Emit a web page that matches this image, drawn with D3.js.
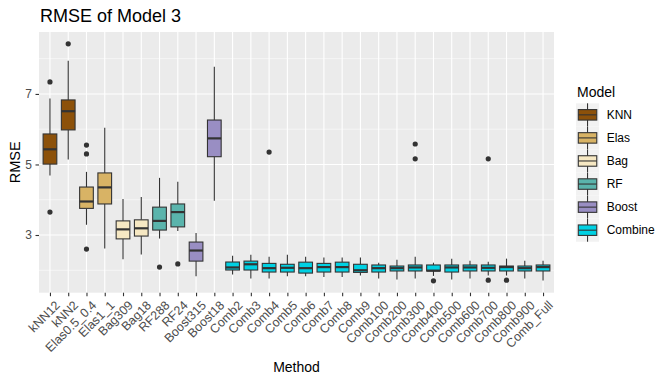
<!DOCTYPE html>
<html>
<head>
<meta charset="utf-8">
<script src="https://cdn.jsdelivr.net/npm/d3@7"></script>
<style>
    body { margin: 0; background: #ffffff; }
    svg text { font-family: "Liberation Sans", Arial, sans-serif; }
</style>
</head>
<body>
<div id="chart"></div>
<script>

// methods on the x axis, and the model group each one belongs to
var methods = ["kNN12", "kNN2", "Elas0.5_0.4", "Elas1_1", "Bag309", "Bag18", "RF288", "RF24",
               "Boost315", "Boost18", "Comb2", "Comb3", "Comb4", "Comb5", "Comb6", "Comb7",
               "Comb8", "Comb9", "Comb100", "Comb200", "Comb300", "Comb400", "Comb500",
               "Comb600", "Comb700", "Comb800", "Comb900", "Comb_Full"];

var methodModel = ["KNN", "KNN", "Elas", "Elas", "Bag", "Bag", "RF", "RF", "Boost", "Boost",
                   "Combine", "Combine", "Combine", "Combine", "Combine", "Combine", "Combine",
                   "Combine", "Combine", "Combine", "Combine", "Combine", "Combine", "Combine",
                   "Combine", "Combine", "Combine", "Combine"];

// box plot statistics (RMSE)
var whiskerLow = [4.69, 5.14, 3.29, 2.62, 2.31, 2.45, 2.90, 3.11, 1.83, 3.97,
                  1.88, 1.77, 1.77, 1.83, 1.83, 1.81, 1.81, 1.85, 1.77, 1.74,
                  1.77, 1.84, 1.74, 1.77, 1.85, 1.85, 1.77, 1.71];
var q1         = [5.01, 5.98, 3.755, 3.88, 2.89, 2.97, 3.14, 3.23, 2.26, 5.22,
                  2.007, 2.007, 1.95, 1.95, 1.92, 1.95, 1.95, 1.94, 1.95, 1.98,
                  1.98, 1.98, 1.95, 1.98, 1.98, 1.98, 1.98, 1.98];
var medians    = [5.43, 6.51, 3.95, 4.35, 3.16, 3.19, 3.40, 3.65, 2.56, 5.74,
                  2.08, 2.17, 2.06, 2.07, 2.06, 2.09, 2.09, 2.00, 2.06, 2.06,
                  2.08, 1.99, 2.08, 2.08, 2.07, 2.09, 2.06, 2.09];
var q3         = [5.865, 6.83, 4.36, 4.76, 3.40, 3.43, 3.79, 3.88, 2.80, 6.26,
                  2.234, 2.26, 2.195, 2.17, 2.23, 2.195, 2.23, 2.17, 2.15, 2.12,
                  2.15, 2.15, 2.15, 2.15, 2.15, 2.12, 2.12, 2.15];
var whiskerHigh = [6.87, 7.94, 4.79, 6.04, 4.02, 4.08, 4.62, 4.51, 3.06, 7.77,
                   2.41, 2.44, 2.385, 2.44, 2.385, 2.36, 2.36, 2.36, 2.215, 2.30,
                   2.385, 2.215, 2.33, 2.27, 2.24, 2.33, 2.27, 2.27];
var outliers = [[7.34, 3.65], [8.42], [5.55, 5.30, 2.60], [], [], [], [2.09], [2.18], [], [],
                [], [], [5.35], [], [], [], [], [], [], [],
                [5.58, 5.16], [1.70], [], [], [5.16, 1.72], [1.72], [], []];

// legend groups and colours
var models = ["KNN", "Elas", "Bag", "RF", "Boost", "Combine"];
var modelColors = ["#8C510A", "#D8B365", "#F6E8C3", "#5AB4AC", "#998EC3", "#00D1E3"];

var yTicks = [3, 5, 7];
var yMinorTicks = [2, 4, 6, 8];


// Define dimensions
var width = 666, height = 384;
var panel = { left: 39, right: 554, top: 32, bottom: 292.7 };

var svg = d3.select("#chart")
    .append("svg")
    .attr("width", width)
    .attr("height", height);

// scales: discrete x like ggplot (0.6 expansion), y with 5% expansion
var xScale = d3.scalePoint()
    .domain(methods)
    .range([panel.left, panel.right])
    .padding(0.6);

var allValues = whiskerLow.concat(whiskerHigh, d3.merge(outliers));
var yLo = d3.min(allValues), yHi = d3.max(allValues);
var yPad = (yHi - yLo) * 0.05;
var yScale = d3.scaleLinear()
    .domain([yLo - yPad, yHi + yPad])
    .range([panel.bottom, panel.top]);

var color = d3.scaleOrdinal().domain(models).range(modelColors);

// panel background and grid
svg.append("rect")
    .attr("x", panel.left)
    .attr("y", panel.top)
    .attr("width", panel.right - panel.left)
    .attr("height", panel.bottom - panel.top)
    .attr("fill", "#EBEBEB");

svg.selectAll(".minor")
    .data(yMinorTicks)
    .enter().append("line")
    .attr("class", "minor")
    .attr("x1", panel.left).attr("x2", panel.right)
    .attr("y1", d => yScale(d)).attr("y2", d => yScale(d))
    .attr("stroke", "#fff").attr("stroke-width", 0.55);

svg.selectAll(".major")
    .data(yTicks)
    .enter().append("line")
    .attr("class", "major")
    .attr("x1", panel.left).attr("x2", panel.right)
    .attr("y1", d => yScale(d)).attr("y2", d => yScale(d))
    .attr("stroke", "#fff").attr("stroke-width", 1.1);

svg.selectAll(".vgrid")
    .data(methods)
    .enter().append("line")
    .attr("class", "vgrid")
    .attr("x1", d => xScale(d)).attr("x2", d => xScale(d))
    .attr("y1", panel.top).attr("y2", panel.bottom)
    .attr("stroke", "#fff").attr("stroke-width", 1.1);

// boxes
var boxW = xScale.step() * 0.75;
var boxes = svg.selectAll(".box")
    .data(methods)
    .enter().append("g")
    .attr("class", "box");

boxes.append("line")
    .attr("x1", d => xScale(d)).attr("x2", d => xScale(d))
    .attr("y1", (d, i) => yScale(whiskerHigh[i]))
    .attr("y2", (d, i) => yScale(q3[i]))
    .attr("stroke", "#333").attr("stroke-width", 1.1);

boxes.append("line")
    .attr("x1", d => xScale(d)).attr("x2", d => xScale(d))
    .attr("y1", (d, i) => yScale(q1[i]))
    .attr("y2", (d, i) => yScale(whiskerLow[i]))
    .attr("stroke", "#333").attr("stroke-width", 1.1);

boxes.append("rect")
    .attr("x", d => xScale(d) - boxW / 2)
    .attr("width", boxW)
    .attr("y", (d, i) => yScale(q3[i]))
    .attr("height", (d, i) => yScale(q1[i]) - yScale(q3[i]))
    .attr("fill", (d, i) => color(methodModel[i]))
    .attr("stroke", "#333").attr("stroke-width", 1.1);

boxes.append("line")
    .attr("x1", d => xScale(d) - boxW / 2).attr("x2", d => xScale(d) + boxW / 2)
    .attr("y1", (d, i) => yScale(medians[i]))
    .attr("y2", (d, i) => yScale(medians[i]))
    .attr("stroke", "#333").attr("stroke-width", 2.2);

// outlier points
boxes.each(function(d, i) {
    d3.select(this).selectAll("circle")
        .data(outliers[i])
        .enter().append("circle")
        .attr("cx", xScale(d))
        .attr("cy", v => yScale(v))
        .attr("r", 2.6)
        .attr("fill", "#333");
});

// y axis
var yAxis = d3.axisLeft(yScale).tickValues(yTicks).tickSize(3.5).tickPadding(3.5);
var yAxisG = svg.append("g")
    .attr("transform", "translate(" + panel.left + ",0)")
    .call(yAxis);
yAxisG.select(".domain").remove();
yAxisG.selectAll("line").attr("stroke", "#333").attr("stroke-width", 1.1);
yAxisG.selectAll("text")
    .attr("fill", "#4D4D4D")
    .style("font-size", "12px");

// x axis with rotated labels
var xAxis = d3.axisBottom(xScale).tickSize(3.5).tickPadding(0);
var xAxisG = svg.append("g")
    .attr("transform", "translate(0," + panel.bottom + ")")
    .call(xAxis);
xAxisG.select(".domain").remove();
xAxisG.selectAll("line").attr("stroke", "#333").attr("stroke-width", 1.1);
xAxisG.selectAll("text")
    .attr("fill", "#4D4D4D")
    .style("font-size", "12.5px")
    .attr("text-anchor", "end")
    .attr("dy", "0.71em")
    .attr("y", 0)
    .attr("transform", "translate(4,7) rotate(-45)");

// titles
svg.append("text")
    .attr("x", 40)
    .attr("y", 21.7)
    .style("font-size", "18px")
    .attr("fill", "#000")
    .text("RMSE of Model 3");

svg.append("text")
    .attr("text-anchor", "middle")
    .attr("x", (panel.left + panel.right) / 2)
    .attr("y", 372)
    .style("font-size", "14px")
    .text("Method");

svg.append("text")
    .attr("transform", "translate(19.5," + ((panel.top + panel.bottom) / 2) + ") rotate(-90)")
    .attr("text-anchor", "middle")
    .style("font-size", "14.5px")
    .text("RMSE");

// legend
var keySize = 23.07;
var legend = svg.append("g")
    .attr("transform", "translate(576,103.3)");

legend.append("text")
    .attr("x", 1)
    .attr("y", -6.6)
    .style("font-size", "14px")
    .text("Model");

var keys = legend.selectAll(".key")
    .data(models)
    .enter().append("g")
    .attr("class", "key")
    .attr("transform", (d, i) => "translate(0," + i * keySize + ")");

keys.append("rect")
    .attr("width", keySize).attr("height", keySize)
    .attr("fill", "#F2F2F2");

keys.append("line")
    .attr("x1", keySize / 2).attr("x2", keySize / 2)
    .attr("y1", 0).attr("y2", keySize)
    .attr("stroke", "#333").attr("stroke-width", 1.1);

keys.append("rect")
    .attr("x", 2.3).attr("y", 6.3)
    .attr("width", keySize - 4.6).attr("height", keySize - 12.6)
    .attr("fill", d => color(d))
    .attr("stroke", "#333").attr("stroke-width", 1.1);

keys.append("line")
    .attr("x1", 2.3).attr("x2", keySize - 2.3)
    .attr("y1", keySize / 2).attr("y2", keySize / 2)
    .attr("stroke", "#333").attr("stroke-width", 1.1);

keys.append("text")
    .attr("x", 30.7)
    .attr("y", keySize / 2)
    .attr("dy", "0.36em")
    .style("font-size", "12px")
    .text(d => d);

</script>
</body>
</html>
